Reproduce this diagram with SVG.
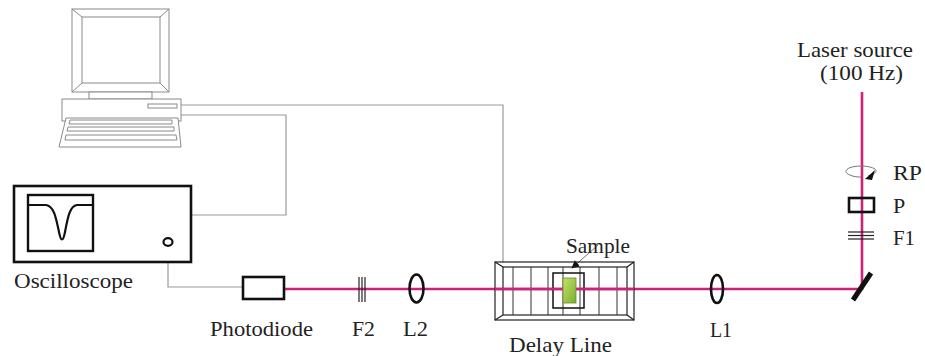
<svg xmlns="http://www.w3.org/2000/svg" width="925" height="356" viewBox="0 0 925 356">
  <defs>
    <style>
      .lbl { font-family: "Liberation Serif", "Times New Roman", serif; font-size: 22px; fill: #222; }
      .pc { fill: #fff; stroke: #8a8a8a; stroke-width: 1; }
      .cable { fill: none; stroke: #9a9a9a; stroke-width: 1.2; }
      .beam { fill: none; stroke: #cc2277; stroke-width: 2.6; }
      .optic { fill: none; stroke: #111; stroke-width: 2.6; }
      .thin { fill: none; stroke: #222; stroke-width: 1.2; }
    </style>
    <linearGradient id="sampleFill" x1="0" y1="0" x2="1" y2="1">
      <stop offset="0" stop-color="#c6e06a"/>
      <stop offset="1" stop-color="#78b02c"/>
    </linearGradient>
    <marker id="arrowHead" viewBox="0 0 10 10" refX="9" refY="5" markerWidth="8" markerHeight="8" orient="auto" markerUnits="userSpaceOnUse">
      <path d="M0,0 L10,5 L0,10 z" fill="#111"/>
    </marker>
  </defs>

  <rect width="925" height="356" fill="#fff"/>

  <!-- cables and beam path -->
  <g id="connectors">
    <polyline class="cable" points="181,105 503,105 503,262"/>
    <polyline class="cable" points="181,115 286,115 286,215 191,215"/>
    <polyline class="cable" points="168,246 168,287 243,287"/>
    <polyline class="beam" points="862,92 862,289 284,289"/>
    <line x1="598" y1="245" x2="572" y2="268" stroke="#777" stroke-width="1" marker-end="url(#arrowHead)"/>
  </g>

  <!-- computer -->
  <g id="computer">
    <rect class="pc" x="72" y="9" width="97" height="83"/>
    <rect class="pc" x="82" y="17" width="78" height="66"/>
    <line class="pc" x1="72" y1="9" x2="82" y2="17"/>
    <line class="pc" x1="169" y1="9" x2="160" y2="17"/>
    <line class="pc" x1="72" y1="92" x2="82" y2="83"/>
    <line class="pc" x1="169" y1="92" x2="160" y2="83"/>
    <rect class="pc" x="89" y="92" width="63" height="7"/>
    <rect class="pc" x="62" y="99" width="119" height="22"/>
    <rect class="pc" x="148" y="104" width="29" height="4"/>
    <polygon class="pc" points="66,118 178,118 181,147 59,147"/>
    <polygon class="pc" points="70,120 172,120 172,124 69,124"/>
    <polygon class="pc" points="68,127 174,127 174,131 67,131"/>
    <polygon class="pc" points="66,135 176,135 177,140 65,140"/>
  </g>

  <!-- oscilloscope -->
  <g id="oscilloscope">
    <rect x="14" y="186" width="177" height="76" fill="#fff" stroke="#111" stroke-width="2.6"/>
    <rect x="28" y="195" width="65" height="56" fill="#fff" stroke="#111" stroke-width="2.4"/>
    <path d="M28,205 L46,205 C54,206 56,218 59,232 C61,242 63,242 65,232 C68,216 70,206 77,205 L93,205" fill="none" stroke="#111" stroke-width="2.2"/>
    <ellipse cx="168" cy="242" rx="4.5" ry="3.8" fill="#fff" stroke="#111" stroke-width="2.2"/>
    <text class="lbl" x="14" y="288" textLength="119" lengthAdjust="spacingAndGlyphs">Oscilloscope</text>
  </g>

  <!-- photodiode -->
  <g id="photodiode">
    <rect class="optic" x="243" y="277" width="41" height="22" fill="#fff"/>
    <text class="lbl" x="210" y="336" textLength="103" lengthAdjust="spacingAndGlyphs">Photodiode</text>
  </g>

  <!-- filter F2 -->
  <g id="f2">
    <line class="thin" x1="359" y1="277" x2="359" y2="302"/>
    <line class="thin" x1="362" y1="277" x2="362" y2="302"/>
    <line class="thin" x1="365" y1="277" x2="365" y2="302"/>
    <text class="lbl" x="352" y="336" textLength="23" lengthAdjust="spacingAndGlyphs">F2</text>
  </g>

  <!-- lens L2 -->
  <g id="l2">
    <ellipse class="optic" cx="416.5" cy="288.5" rx="7" ry="14"/>
    <text class="lbl" x="403" y="336" textLength="25" lengthAdjust="spacingAndGlyphs">L2</text>
  </g>

  <!-- delay line with sample -->
  <g id="delay-line">
    <rect class="thin" x="495" y="262" width="139" height="58" stroke-width="1.5"/>
    <rect class="thin" x="503" y="267" width="124" height="48"/>
    <line class="thin" x1="495" y1="262" x2="503" y2="267"/>
    <line class="thin" x1="634" y1="262" x2="627" y2="267"/>
    <line class="thin" x1="495" y1="320" x2="503" y2="315"/>
    <line class="thin" x1="634" y1="320" x2="627" y2="315"/>
    <g stroke="#333" stroke-width="1">
      <line x1="513" y1="267" x2="513" y2="315"/>
      <line x1="531" y1="267" x2="531" y2="315"/>
      <line x1="548" y1="267" x2="548" y2="315"/>
      <line x1="563" y1="267" x2="563" y2="315"/>
      <line x1="580" y1="267" x2="580" y2="315"/>
      <line x1="599" y1="267" x2="599" y2="315"/>
      <line x1="617" y1="267" x2="617" y2="315"/>
    </g>
    <rect x="553" y="273" width="31" height="35" fill="none" stroke="#111" stroke-width="1.5"/>
    <line class="beam" x1="495" y1="289" x2="634" y2="289"/>
    <rect x="563" y="278" width="13" height="25" fill="url(#sampleFill)" stroke="#6a8a30" stroke-width="0.8"/>
    <text class="lbl" x="566" y="253" textLength="64" lengthAdjust="spacingAndGlyphs">Sample</text>
    <text class="lbl" x="509" y="352" textLength="103" lengthAdjust="spacingAndGlyphs">Delay Line</text>
  </g>

  <!-- lens L1 -->
  <g id="l1">
    <ellipse class="optic" cx="717" cy="289" rx="6" ry="14"/>
    <text class="lbl" x="710" y="337" textLength="22" lengthAdjust="spacingAndGlyphs">L1</text>
  </g>

  <!-- mirror -->
  <g id="mirror">
    <line x1="853" y1="300" x2="871" y2="273" stroke="#111" stroke-width="5"/>
  </g>

  <!-- filter F1 -->
  <g id="f1">
    <line class="thin" x1="848" y1="232" x2="874" y2="232"/>
    <line class="thin" x1="848" y1="235.5" x2="874" y2="235.5"/>
    <line class="thin" x1="848" y1="239" x2="874" y2="239"/>
    <text class="lbl" x="893" y="245" textLength="22" lengthAdjust="spacingAndGlyphs">F1</text>
  </g>

  <!-- polarizer P -->
  <g id="polarizer">
    <rect class="optic" x="849" y="198" width="25" height="14"/>
    <text class="lbl" x="893" y="213">P</text>
  </g>

  <!-- rotating polarizer RP -->
  <g id="rotator">
    <path d="M868,176 C880,173 879,167 862,166 C846,166 842,172 850,175 C854,177 858,177 861,177" fill="none" stroke="#777" stroke-width="1"/>
    <path d="M875,170 L865,179 L872,180 z" fill="#111"/>
    <text class="lbl" x="893" y="180" textLength="29" lengthAdjust="spacingAndGlyphs">RP</text>
  </g>

  <!-- laser source -->
  <g id="laser">
    <text class="lbl" x="797" y="57" textLength="116" lengthAdjust="spacingAndGlyphs">Laser source</text>
    <text class="lbl" x="820" y="80" textLength="83" lengthAdjust="spacingAndGlyphs">(100 Hz)</text>
  </g>
</svg>
